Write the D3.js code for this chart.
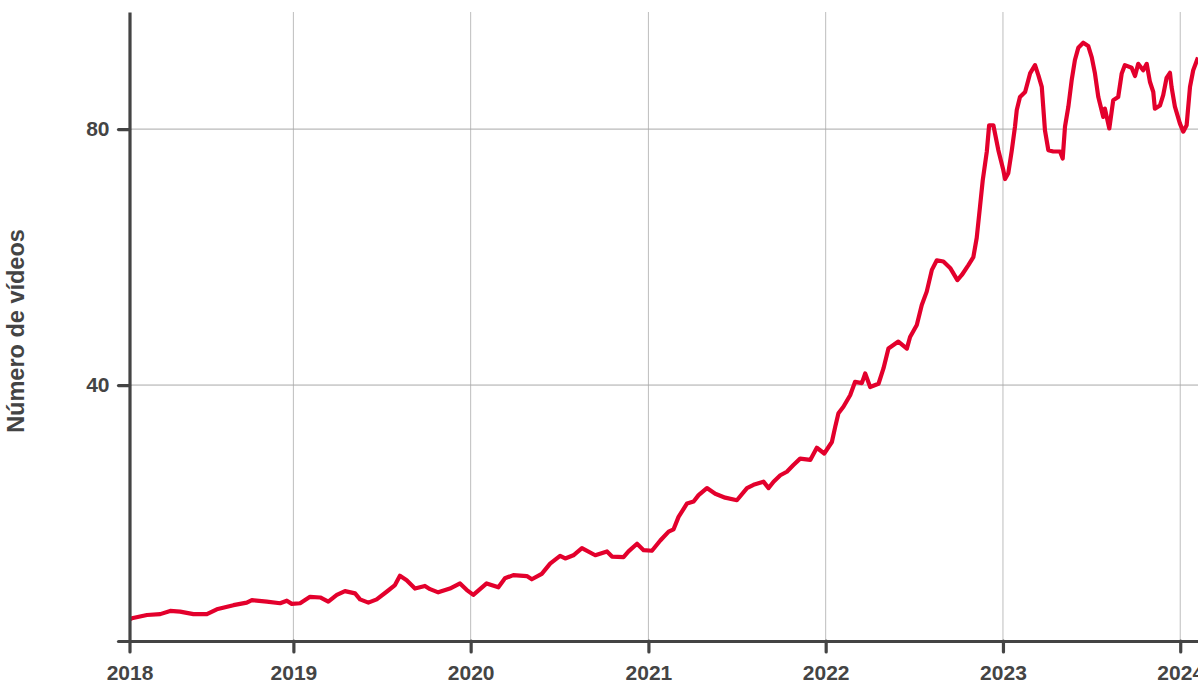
<!DOCTYPE html>
<html>
<head>
<meta charset="utf-8">
<script src="https://cdn.jsdelivr.net/npm/d3@7"></script>
<style>
  body { margin: 0; background: #fff; }
  text { font-family: "Liberation Sans", Arial, Helvetica, sans-serif; font-weight: bold; fill: #444; }
</style>
</head>
<body>
<div id="area"></div>
<script>
'use strict';

// time as decimal years
const years = [
  2018.080, 2018.089, 2018.174, 2018.249, 2018.305, 2018.361, 2018.436, 2018.512, 2018.568, 2018.662,
  2018.737, 2018.766, 2018.850, 2018.925, 2018.963, 2018.991, 2019.038, 2019.094, 2019.151, 2019.197,
  2019.245, 2019.291, 2019.348, 2019.376, 2019.423, 2019.470, 2019.526, 2019.573, 2019.601, 2019.639,
  2019.686, 2019.742, 2019.771, 2019.817, 2019.883, 2019.940, 2019.977, 2020.015, 2020.090, 2020.156,
  2020.193, 2020.240, 2020.316, 2020.344, 2020.400, 2020.447, 2020.503, 2020.532, 2020.578, 2020.626,
  2020.701, 2020.767, 2020.795, 2020.860, 2020.888, 2020.936, 2020.973, 2021.020, 2021.067, 2021.114,
  2021.142, 2021.170, 2021.218, 2021.255, 2021.283, 2021.330, 2021.377, 2021.433, 2021.499, 2021.556,
  2021.593, 2021.649, 2021.678, 2021.706, 2021.744, 2021.781, 2021.818, 2021.856, 2021.913, 2021.950,
  2021.992, 2022.035, 2022.054, 2022.072, 2022.100, 2022.138, 2022.166, 2022.204, 2022.223, 2022.251,
  2022.298, 2022.326, 2022.354, 2022.410, 2022.458, 2022.476, 2022.514, 2022.542, 2022.570, 2022.599,
  2022.627, 2022.664, 2022.702, 2022.743, 2022.768, 2022.805, 2022.833, 2022.852, 2022.871, 2022.886,
  2022.909, 2022.922, 2022.946, 2022.974, 2023.002, 2023.012, 2023.030, 2023.050, 2023.068, 2023.078,
  2023.096, 2023.125, 2023.153, 2023.181, 2023.200, 2023.219, 2023.237, 2023.256, 2023.284, 2023.322,
  2023.337, 2023.350, 2023.369, 2023.388, 2023.406, 2023.425, 2023.453, 2023.481, 2023.501, 2023.519,
  2023.538, 2023.566, 2023.575, 2023.600, 2023.622, 2023.650, 2023.670, 2023.688, 2023.726, 2023.745,
  2023.763, 2023.791, 2023.811, 2023.829, 2023.848, 2023.857, 2023.886, 2023.904, 2023.923, 2023.942,
  2023.951, 2023.970, 2023.998, 2024.017, 2024.036, 2024.055, 2024.073, 2024.100
];

const videos = [
  3.4, 3.55, 4.06, 4.2, 4.7, 4.6, 4.2, 4.2, 4.95, 5.6,
  6.0, 6.4, 6.15, 5.9, 6.3, 5.8, 5.9, 6.9, 6.8, 6.15,
  7.2, 7.8, 7.45, 6.5, 6.0, 6.5, 7.7, 8.75, 10.2, 9.5,
  8.2, 8.6, 8.1, 7.6, 8.2, 9.0, 8.0, 7.2, 9.0, 8.4,
  9.8, 10.3, 10.15, 9.65, 10.5, 12.1, 13.3, 12.9, 13.4, 14.5,
  13.4, 14.0, 13.2, 13.1, 14.0, 15.2, 14.2, 14.1, 15.7, 17.1,
  17.45, 19.4, 21.5, 21.8, 22.8, 23.9, 23.0, 22.4, 22.0, 23.9,
  24.4, 24.9, 23.9, 24.9, 25.9, 26.45, 27.5, 28.5, 28.3, 30.2,
  29.3, 31.1, 33.5, 35.6, 36.6, 38.4, 40.5, 40.3, 41.8, 39.7,
  40.2, 42.6, 45.7, 46.8, 45.7, 47.5, 49.4, 52.5, 54.6, 58.0,
  59.5, 59.3, 58.3, 56.4, 57.2, 58.75, 60.0, 63.0, 68.0, 72.0,
  76.5, 80.6, 80.6, 76.7, 73.6, 72.2, 73.1, 76.7, 80.4, 83.0,
  85.0, 85.8, 88.7, 90.0, 88.4, 86.6, 79.8, 76.7, 76.5, 76.5,
  75.4, 80.4, 83.5, 87.7, 90.8, 92.7, 93.5, 93.0, 91.2, 88.7,
  85.0, 81.9, 83.2, 80.1, 84.5, 85.0, 88.7, 90.0, 89.6, 88.3,
  90.2, 89.2, 90.2, 87.4, 85.8, 83.2, 83.7, 85.3, 88.0, 88.8,
  86.6, 83.5, 80.9, 79.6, 80.6, 86.6, 89.2, 91.2
];

const yTicks = [0, 40, 80];
const xTickYears = [2019, 2020, 2021, 2022, 2023, 2024];
const yLabel = "Número de vídeos";

// decimal year -> UTC date
function toDate(v) {
  const yr = Math.floor(v);
  const a = Date.UTC(yr, 0, 1), b = Date.UTC(yr + 1, 0, 1);
  return new Date(a + (v - yr) * (b - a));
}

const width = 1198, height = 684;
const plotLeft = 129.5, plotRight = 1198, plotTop = 12, plotBottom = 641;
const axisColor = '#444';

const svg = d3.select('#area').append('svg')
  .attr('width', width)
  .attr('height', height);

const x = d3.scaleUtc()
  .domain([toDate(2018.0755), toDate(2024.100)])
  .range([plotLeft, plotRight]);

const y = d3.scaleLinear()
  .domain([0, 98.3])
  .range([plotBottom, plotTop]);

const yearDates = xTickYears.map(d => new Date(Date.UTC(d, 0, 1)));

// grid
svg.append('g').selectAll('line')
  .data(yearDates)
  .join('line')
  .attr('x1', d => x(d)).attr('x2', d => x(d))
  .attr('y1', plotTop).attr('y2', plotBottom)
  .attr('stroke', '#bdbdbd')
  .attr('stroke-width', 1);

svg.append('g').selectAll('line')
  .data(yTicks.filter(d => d > 0))
  .join('line')
  .attr('x1', plotLeft).attr('x2', plotRight)
  .attr('y1', d => y(d)).attr('y2', d => y(d))
  .attr('stroke', '#a8a8a8')
  .attr('stroke-width', 1);

// series
const points = years.map((t, i) => [toDate(t), videos[i]]);

svg.append('defs').append('clipPath').attr('id', 'clip')
  .append('rect')
  .attr('x', plotLeft).attr('y', 0)
  .attr('width', plotRight - plotLeft).attr('height', height);

svg.append('path')
  .datum(points)
  .attr('clip-path', 'url(#clip)')
  .attr('fill', 'none')
  .attr('stroke', '#e3002c')
  .attr('stroke-width', 4.2)
  .attr('stroke-linejoin', 'round')
  .attr('d', d3.line().x(d => x(d[0])).y(d => y(d[1])));

// axes
const xAxis = svg.append('g')
  .attr('transform', `translate(0,${plotBottom})`)
  .call(d3.axisBottom(x)
    .tickValues([x.domain()[0]].concat(yearDates))
    .tickFormat(d3.utcFormat('%Y'))
    .tickSize(11)
    .tickSizeOuter(0)
    .tickPadding(13));

const yAxis = svg.append('g')
  .attr('transform', `translate(${plotLeft},0)`)
  .call(d3.axisLeft(y)
    .tickValues(yTicks)
    .tickFormat(d => d === 0 ? '' : d)
    .tickSize(11)
    .tickSizeOuter(0)
    .tickPadding(9));

[xAxis, yAxis].forEach(g => {
  g.select('.domain').attr('stroke', axisColor).attr('stroke-width', 3.2);
  g.selectAll('.tick line').attr('stroke', axisColor).attr('stroke-width', 3.2).attr('stroke-linecap', 'round');
  g.selectAll('.tick text').attr('fill', axisColor).style('font-size', '21px').attr('font-family', null);
});

svg.append('text')
  .attr('transform', 'translate(24,331) rotate(-90)')
  .attr('text-anchor', 'middle')
  .style('font-size', '23.5px')
  .text(yLabel);
</script>
</body>
</html>
